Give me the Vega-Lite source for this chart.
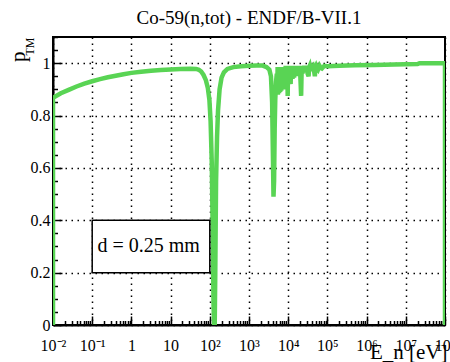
{
  "$schema": "https://vega.github.io/schema/vega-lite/v6.json",
  "width": 392,
  "height": 288,
  "autosize": {"type": "none"},
  "padding": {"left": 53, "top": 37, "right": 5, "bottom": 37},
  "background": "white",
  "config": {"view": {"stroke": "black", "strokeWidth": 2}},
  "title": {"text": "Co-59(n,tot) - ENDF/B-VII.1", "font": "Liberation Serif", "fontSize": 19, "fontWeight": "normal", "color": "black", "baseline": "alphabetic", "offset": -13.5, "frame": "group", "anchor": "middle"},
  "datasets": {
    "curve": [
      {"E": 0.01, "p": 0}, {"E": 0.01, "p": 0.868}, {"E": 0.01585, "p": 0.885}, {"E": 0.02512, "p": 0.898}, {"E": 0.03981, "p": 0.911}, {"E": 0.0631, "p": 0.922}, {"E": 0.1, "p": 0.931}, {"E": 0.1585, "p": 0.939}, {"E": 0.2512, "p": 0.946}, {"E": 0.3981, "p": 0.952}, {"E": 0.631, "p": 0.958}, {"E": 1, "p": 0.963}, {"E": 1.778, "p": 0.967}, {"E": 3.162, "p": 0.971}, {"E": 5.623, "p": 0.974}, {"E": 10, "p": 0.976}, {"E": 17.78, "p": 0.978}, {"E": 31.62, "p": 0.979}, {"E": 44.7, "p": 0.978}, {"E": 52.5, "p": 0.975}, {"E": 60.3, "p": 0.968}, {"E": 69.2, "p": 0.955}, {"E": 79.4, "p": 0.935}, {"E": 89.1, "p": 0.905}, {"E": 97.7, "p": 0.86}, {"E": 104.7, "p": 0.78}, {"E": 112.2, "p": 0.62}, {"E": 118.9, "p": 0.35}, {"E": 124.5, "p": 0.08}, {"E": 128.8, "p": 0}, {"E": 133.4, "p": 0}, {"E": 138.0, "p": 0.2}, {"E": 144.5, "p": 0.55}, {"E": 153.1, "p": 0.72}, {"E": 162.2, "p": 0.82}, {"E": 177.8, "p": 0.9}, {"E": 199.5, "p": 0.945}, {"E": 229.1, "p": 0.965}, {"E": 281.8, "p": 0.978}, {"E": 398.1, "p": 0.985}, {"E": 631, "p": 0.988}, {"E": 1000, "p": 0.99}, {"E": 1585, "p": 0.991}, {"E": 2239, "p": 0.991},
      {"E": 2818, "p": 0.985}, {"E": 3311, "p": 0.975}, {"E": 3631, "p": 0.95}, {"E": 3890, "p": 0.85}, {"E": 4074, "p": 0.65}, {"E": 4217, "p": 0.49}, {"E": 4365, "p": 0.55}, {"E": 4519, "p": 0.75}, {"E": 4677, "p": 0.86}, {"E": 4898, "p": 0.93}, {"E": 5129, "p": 0.96},
      {"E": 5250, "p": 0.9}, {"E": 5370, "p": 0.985}, {"E": 5460, "p": 0.88}, {"E": 5559, "p": 0.96}, {"E": 5650, "p": 0.9}, {"E": 5754, "p": 0.98}, {"E": 5850, "p": 0.885}, {"E": 5957, "p": 0.95}, {"E": 6060, "p": 0.91}, {"E": 6166, "p": 0.975}, {"E": 6240, "p": 0.89}, {"E": 6310, "p": 0.96}, {"E": 6420, "p": 0.92}, {"E": 6531, "p": 0.985}, {"E": 6650, "p": 0.895}, {"E": 6761, "p": 0.96}, {"E": 6880, "p": 0.9}, {"E": 6998, "p": 0.975}, {"E": 7120, "p": 0.915}, {"E": 7244, "p": 0.97}, {"E": 7370, "p": 0.9}, {"E": 7499, "p": 0.985}, {"E": 7630, "p": 0.92}, {"E": 7762, "p": 0.97}, {"E": 7900, "p": 0.905}, {"E": 8035, "p": 0.975}, {"E": 8180, "p": 0.93}, {"E": 8318, "p": 0.98}, {"E": 8460, "p": 0.91}, {"E": 8610, "p": 0.99}, {"E": 8760, "p": 0.935}, {"E": 8913, "p": 0.975}, {"E": 9070, "p": 0.92}, {"E": 9226, "p": 0.98}, {"E": 9390, "p": 0.9}, {"E": 9550, "p": 0.97}, {"E": 9700, "p": 0.875}, {"E": 9886, "p": 0.97}, {"E": 10050, "p": 0.93}, {"E": 10233, "p": 0.985}, {"E": 10400, "p": 0.94}, {"E": 10593, "p": 0.99}, {"E": 10780, "p": 0.95}, {"E": 10965, "p": 0.98}, {"E": 11150, "p": 0.93}, {"E": 11350, "p": 0.985}, {"E": 11550, "p": 0.92}, {"E": 11749, "p": 0.98}, {"E": 11950, "p": 0.945}, {"E": 12162, "p": 0.99}, {"E": 12370, "p": 0.95}, {"E": 12589, "p": 0.985}, {"E": 12880, "p": 0.94}, {"E": 13183, "p": 0.985}, {"E": 13490, "p": 0.95}, {"E": 13804, "p": 0.99}, {"E": 14130, "p": 0.945}, {"E": 14454, "p": 0.985}, {"E": 14800, "p": 0.96}, {"E": 15136, "p": 0.99}, {"E": 15490, "p": 0.955}, {"E": 15849, "p": 0.985}, {"E": 16220, "p": 0.95}, {"E": 16596, "p": 0.99}, {"E": 16980, "p": 0.96}, {"E": 17378, "p": 0.985}, {"E": 18000, "p": 0.955}, {"E": 18621, "p": 0.99}, {"E": 19280, "p": 0.96}, {"E": 19953, "p": 0.985}, {"E": 20650, "p": 0.93}, {"E": 21380, "p": 0.875}, {"E": 22000, "p": 0.97}, {"E": 22387, "p": 0.985}, {"E": 23200, "p": 0.96}, {"E": 23988, "p": 0.99}, {"E": 24800, "p": 0.965}, {"E": 25704, "p": 0.99}, {"E": 26600, "p": 0.97}, {"E": 27542, "p": 0.99}, {"E": 28500, "p": 0.965}, {"E": 29512, "p": 0.988}, {"E": 31300, "p": 0.96}, {"E": 33113, "p": 0.95}, {"E": 34300, "p": 0.985}, {"E": 35481, "p": 0.99}, {"E": 37600, "p": 0.97}, {"E": 39811, "p": 0.985}, {"E": 42658, "p": 0.99}, {"E": 45200, "p": 0.975}, {"E": 47863, "p": 0.95}, {"E": 49500, "p": 0.985}, {"E": 51286, "p": 0.99}, {"E": 54300, "p": 0.98}, {"E": 57544, "p": 0.975}, {"E": 63096, "p": 0.99}, {"E": 67800, "p": 0.982}, {"E": 72444, "p": 0.98}, {"E": 83176, "p": 0.99}, {"E": 100000, "p": 0.988}, {"E": 199526, "p": 0.99}, {"E": 501187, "p": 0.992}, {"E": 1584893, "p": 0.993}, {"E": 5011872, "p": 0.995}, {"E": 10000000, "p": 0.996}, {"E": 19952623, "p": 0.997}, {"E": 22387211, "p": 1.0}, {"E": 100000000, "p": 1.0}, {"E": 100000000, "p": 0}
    ],
    "box": [{"x1": 0.1, "x2": 100, "y1": 0.2, "y2": 0.4}],
    "label": [{"x": 2.75, "y": 0.3, "text": "d = 0.25 mm"}]
  },
  "resolve": {"scale": {"y": "independent"}},
  "layer": [
    {
      "data": {"name": "curve"},
      "mark": {"type": "line", "color": "#59d454", "strokeWidth": 4.5, "clip": true},
      "encoding": {
        "order": {"value": null},
        "x": {
          "field": "E", "type": "quantitative",
          "scale": {"type": "log", "domain": [0.01, 100000000], "nice": false},
          "axis": {
            "values": [0.01,0.02,0.03,0.04,0.05,0.06,0.07,0.08,0.09,0.1,0.2,0.3,0.4,0.5,0.6,0.7,0.8,0.9,1,2,3,4,5,6,7,8,9,10,20,30,40,50,60,70,80,90,100,200,300,400,500,600,700,800,900,1000,2000,3000,4000,5000,6000,7000,8000,9000,10000,20000,30000,40000,50000,60000,70000,80000,90000,100000,200000,300000,400000,500000,600000,700000,800000,900000,1000000,2000000,3000000,4000000,5000000,6000000,7000000,8000000,9000000,10000000,20000000,30000000,40000000,50000000,60000000,70000000,80000000,90000000,100000000],
            "labelExpr": "abs(log(datum.value)/LN10 - round(log(datum.value)/LN10)) > 0.01 ? '' : ['10⁻²','10⁻¹','1','10','10²','10³','10⁴','10⁵','10⁶','10⁷','10⁸'][round(log(datum.value)/LN10)+2]",
            "labelOverlap": false, "labelFlush": false, "labelBound": false,
            "labelFont": "Liberation Serif", "labelFontSize": 16, "labelColor": "black", "labelBaseline": "alphabetic", "labelPadding": 34,
            "tickSize": -9, "tickWidth": 1.5, "tickColor": "black",
            "tickDash": {"condition": {"test": "abs(log(datum.value)/LN10 - round(log(datum.value)/LN10)) < 0.01", "value": [9, 0]}, "value": [4.5, 30]},
            "grid": true, "gridColor": "black", "gridWidth": 1.5, "gridDash": [1.5, 4.5],
            "gridOpacity": {"condition": {"test": "abs(log(datum.value)/LN10 - round(log(datum.value)/LN10)) < 0.01", "value": 1}, "value": 0},
            "domainColor": "black", "domainWidth": 2,
            "title": "E_n [eV]", "titleFont": "Liberation Serif", "titleFontSize": 21, "titleFontWeight": "normal", "titleColor": "black",
            "titleAlign": "right", "titleAnchor": "end", "titleBaseline": "alphabetic", "titleX": 394, "titleY": 33
          }
        },
        "y": {
          "field": "p", "type": "quantitative",
          "scale": {"domain": [0, 1.1], "nice": false, "zero": false},
          "axis": {
            "orient": "left",
            "values": [0,0.05,0.1,0.15,0.2,0.25,0.3,0.35,0.4,0.45,0.5,0.55,0.6,0.65,0.7,0.75,0.8,0.85,0.9,0.95,1,1.05,1.1],
            "labelExpr": "abs(datum.value*5 - round(datum.value*5)) > 0.01 ? '' : format(datum.value, '~g')",
            "labelOverlap": false, "labelFlush": false, "labelBound": false,
            "labelFont": "Liberation Serif", "labelFontSize": 16, "labelColor": "black", "labelPadding": 12,
            "tickSize": -9, "tickWidth": 1.5, "tickColor": "black",
            "tickDash": {"condition": {"test": "abs(datum.value*5 - round(datum.value*5)) < 0.01", "value": [9, 0]}, "value": [4.5, 30]},
            "grid": true, "gridColor": "black", "gridWidth": 1.5, "gridDash": [1.5, 4.5],
            "gridOpacity": {"condition": {"test": "abs(datum.value*5 - round(datum.value*5)) < 0.01", "value": 1}, "value": 0},
            "domainColor": "black", "domainWidth": 2,
            "title": "p", "titleFont": "Liberation Serif", "titleFontSize": 21, "titleFontWeight": "normal", "titleColor": "black",
            "titleAngle": -90, "titleAlign": "right", "titleBaseline": "alphabetic", "titleX": -29, "titleY": 14
          }
        }
      }
    },
    {
      "data": {"name": "box"},
      "mark": {"type": "rect", "fill": "white", "stroke": "black", "strokeWidth": 1.5},
      "encoding": {
        "x": {"field": "x1", "type": "quantitative"},
        "x2": {"field": "x2"},
        "y": {
          "field": "y1", "type": "quantitative",
          "scale": {"domain": [0, 1.1], "nice": false, "zero": false},
          "axis": {"orient": "left", "labels": false, "ticks": false, "domain": false, "grid": false,
            "title": "TM", "titleFont": "Liberation Serif", "titleFontSize": 12, "titleFontWeight": "normal", "titleColor": "black",
            "titleAngle": -90, "titleAlign": "right", "titleBaseline": "alphabetic", "titleX": -20, "titleY": 0}
        },
        "y2": {"field": "y2"}
      }
    },
    {
      "data": {"name": "label"},
      "mark": {"type": "text", "font": "Liberation Serif", "fontSize": 20, "align": "center", "baseline": "middle", "color": "black"},
      "encoding": {
        "x": {"field": "x", "type": "quantitative"},
        "y": {"field": "y", "type": "quantitative", "scale": {"domain": [0, 1.1], "nice": false, "zero": false}, "axis": null},
        "text": {"field": "text"}
      }
    }
  ]
}
